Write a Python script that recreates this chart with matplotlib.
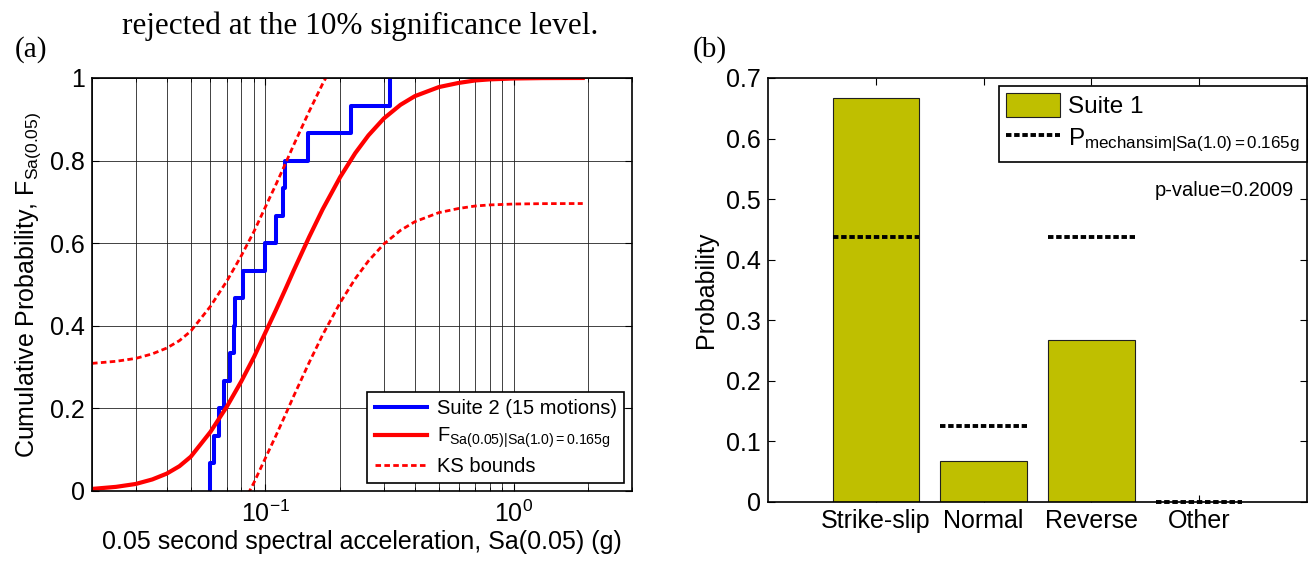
import numpy as np
import matplotlib
matplotlib.use('Agg')
from matplotlib import pyplot as plt
from matplotlib.ticker import LogLocator, NullFormatter

plt.rcParams['font.family'] = 'Liberation Sans'
plt.rcParams['mathtext.fontset'] = 'custom'
plt.rcParams['mathtext.rm'] = 'Liberation Sans'
plt.rcParams['mathtext.it'] = 'Liberation Sans:italic'
plt.rcParams['mathtext.bf'] = 'Liberation Sans:bold'

# (a) Suite 2 ground motion Sa(0.05) values (g), 15 motions
suite2_sa = [0.0598, 0.0618, 0.065, 0.0679, 0.0721, 0.0745, 0.0757, 0.0815,
             0.100, 0.110, 0.118, 0.120, 0.148, 0.221, 0.319]

# target conditional CDF
cdf_x = [0.02, 0.025, 0.03, 0.035, 0.04, 0.045, 0.05, 0.06, 0.07, 0.08, 0.09,
         0.10, 0.11, 0.12, 0.13, 0.14, 0.15, 0.17, 0.20, 0.23, 0.26, 0.30,
         0.35, 0.40, 0.50, 0.60, 0.70, 0.80, 1.0, 1.3, 1.6, 1.9]
cdf_f = [0.005, 0.010, 0.017, 0.028, 0.042, 0.060, 0.083, 0.143, 0.205, 0.266,
         0.325, 0.384, 0.437, 0.487, 0.534, 0.576, 0.615, 0.682, 0.760, 0.818,
         0.861, 0.902, 0.935, 0.956, 0.978, 0.988, 0.994, 0.9966, 0.9988,
         0.9997, 0.9999, 1.0]
ks_d = 0.304

# (b) mechanism probabilities
mechanisms = ["Strike-slip", "Normal", "Reverse", "Other"]
suite1_prob = [10 / 15, 1 / 15, 4 / 15, 0.0]
target_prob = [0.4375, 0.125, 0.4375, 0.0]
p_value = 0.2009

fig = plt.figure(figsize=(13.09, 5.61), dpi=100)
ax1 = fig.add_axes([0.0703, 0.1248, 0.4125, 0.7362])
ax2 = fig.add_axes([0.5867, 0.1057, 0.4118, 0.7553])

fig.text(0.275, 0.953, "rejected at the 10% significance level.", family='Liberation Serif',
         fontsize=22.5, ha='center', va='center')
fig.text(0.0115, 0.912, "(a)", family='Liberation Serif', fontsize=21, ha='left', va='center')
fig.text(0.529, 0.912, "(b)", family='Liberation Serif', fontsize=21, ha='left', va='center')

# ---- (a) ----
xs = np.repeat(suite2_sa, 2)
ys = np.repeat(np.arange(len(suite2_sa) + 1) / len(suite2_sa), 2)[1:-1]
ax1.plot(xs, ys, color='#0000FF', lw=2.9, label='Suite 2 (15 motions)', zorder=3)
F = np.array(cdf_f)
ax1.plot(cdf_x, F, color='#FF0000', lw=3.0,
         label=r'F$_{\mathrm{Sa(0.05)|Sa(1.0)=0.165g}}$', zorder=4)
ax1.plot(cdf_x, F + ks_d, color='#FF0000', lw=2.0, dashes=(2, 1.2), label='KS bounds', zorder=4)
ax1.plot(cdf_x, F - ks_d, color='#FF0000', lw=2.0, dashes=(2, 1.2), zorder=4)

ax1.set_xscale('log')
ax1.set_xlim(0.02, 3)
ax1.set_ylim(0, 1)
ax1.xaxis.set_major_locator(LogLocator(base=10, numticks=10))
ax1.xaxis.set_minor_locator(LogLocator(base=10, subs=np.arange(2, 10), numticks=20))
ax1.xaxis.set_minor_formatter(NullFormatter())
ax1.set_yticks([0, 0.2, 0.4, 0.6, 0.8, 1])
ax1.set_yticklabels(['0', '0.2', '0.4', '0.6', '0.8', '1'])
ax1.grid(True, which='both', axis='x', color='#222222', lw=0.6)
ax1.grid(True, which='major', axis='y', color='#222222', lw=0.6)
ax1.set_axisbelow(True)
ax1.set_xlabel('0.05 second spectral acceleration, Sa(0.05) (g)', fontsize=18, labelpad=2)
ax1.set_ylabel(r'Cumulative Probability, F$_{\mathrm{Sa(0.05)}}$', fontsize=18, labelpad=5)
leg1 = ax1.legend(loc='lower right', bbox_to_anchor=(1 - 8 / 540, 8 / 413), borderaxespad=0,
                  fontsize=14.5, fancybox=False, framealpha=1, edgecolor='black',
                  handlelength=2.6, borderpad=0.35, labelspacing=0.35, handletextpad=0.5)
leg1.get_frame().set_linewidth(1.2)

# ---- (b) ----
pos = np.arange(1, len(mechanisms) + 1)
bars = ax2.bar(pos, suite1_prob, width=0.8, color='#BFBF00', edgecolor='#202020', lw=0.8,
               label='Suite 1', zorder=2)
lines = ax2.hlines(target_prob, pos - 0.4, pos + 0.4, colors='black', lw=2.8,
                   linestyles=(0, (1.4, 0.7)),
                   label=r'P$_{\mathrm{mechansim|Sa(1.0)=0.165g}}$', zorder=3, clip_on=False)
ax2.set_xlim(0, 5)
ax2.set_ylim(0, 0.7)
ax2.set_xticks(pos)
ax2.set_xticklabels(mechanisms)
ax2.set_yticks(np.arange(0, 0.71, 0.1))
ax2.set_yticklabels(['0', '0.1', '0.2', '0.3', '0.4', '0.5', '0.6', '0.7'])
ax2.set_ylabel('Probability', fontsize=18, labelpad=6)
ax2.text(0.975, 0.735, 'p-value=%.4f' % p_value, transform=ax2.transAxes, ha='right',
         va='center', fontsize=14.5)
leg2 = ax2.legend(handles=[bars, lines], loc='upper right', bbox_to_anchor=(1.0, 1 - 8 / 424),
                  borderaxespad=0, fontsize=17.5, fancybox=False, framealpha=1,
                  edgecolor='black', handlelength=2.2, handleheight=1.1, borderpad=0.3,
                  labelspacing=0.3, handletextpad=0.35)
leg2.get_frame().set_linewidth(1.2)

for ax in (ax1, ax2):
    ax.tick_params(which='both', direction='in', top=True, right=True, labelsize=18, pad=5,
                   color='black')
    ax.tick_params(which='major', length=5, width=0.8)
    ax.tick_params(which='minor', length=3, width=0.6)
    for s in ax.spines.values():
        s.set_linewidth(1.2)
        s.set_zorder(5)
ax1.tick_params(axis='x', pad=7)

fig.savefig('out.png', dpi=100)
